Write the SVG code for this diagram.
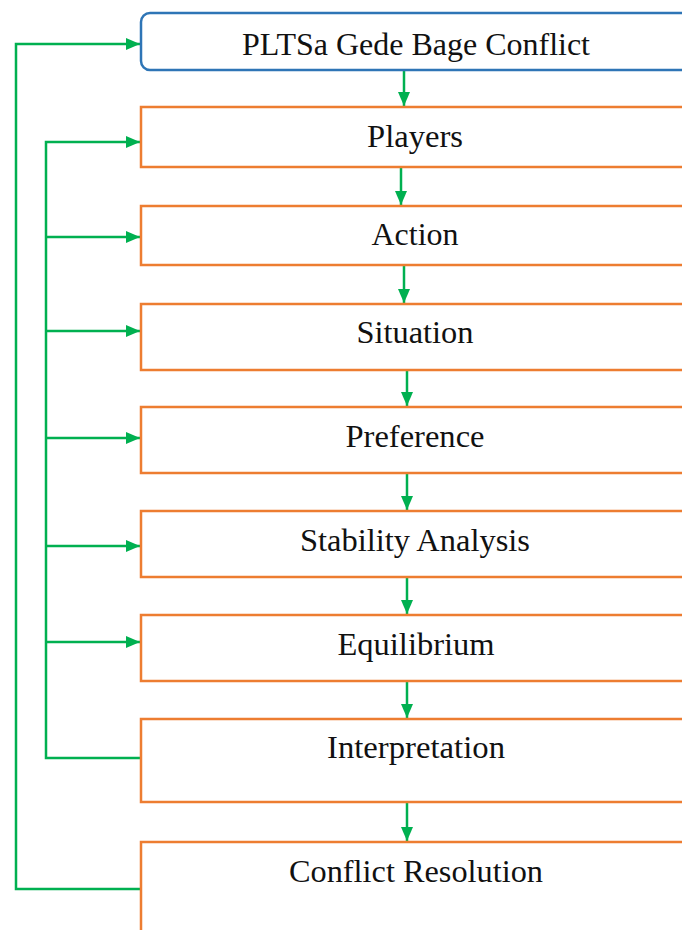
<svg xmlns="http://www.w3.org/2000/svg" width="682" height="930" viewBox="0 0 682 930">
<style>
.box{fill:#fff;stroke:#ED7D31;stroke-width:2.5}
.top{fill:#fff;stroke:#2E75B6;stroke-width:2.5}
.lbl{font-family:"Liberation Serif","Times New Roman",serif;font-size:31px;fill:#111;text-anchor:middle}
.c{fill:none;stroke:#00B050;stroke-width:2.5}
</style>
<defs>
<marker id="ah" viewBox="0 0 14 12" refX="14" refY="6" markerWidth="14" markerHeight="12" markerUnits="userSpaceOnUse" orient="auto">
<path d="M0,0 L14,6 L0,12 Z" fill="#00B050"/>
</marker>
</defs>
<rect width="682" height="930" fill="#fff"/>
<g id="connectors">
<line class="c" x1="404" y1="70" x2="404" y2="106" marker-end="url(#ah)"/>
<line class="c" x1="401" y1="167" x2="401" y2="205" marker-end="url(#ah)"/>
<line class="c" x1="404" y1="265" x2="404" y2="303" marker-end="url(#ah)"/>
<line class="c" x1="407" y1="370" x2="407" y2="406" marker-end="url(#ah)"/>
<line class="c" x1="407" y1="473" x2="407" y2="510" marker-end="url(#ah)"/>
<line class="c" x1="407" y1="577" x2="407" y2="614" marker-end="url(#ah)"/>
<line class="c" x1="407" y1="681" x2="407" y2="718" marker-end="url(#ah)"/>
<line class="c" x1="407" y1="802" x2="407" y2="841" marker-end="url(#ah)"/>
<polyline class="c" points="141,889 16,889 16,44 140,44" marker-end="url(#ah)"/>
<polyline class="c" points="141,758 46,758 46,142 140,142" marker-end="url(#ah)"/>
<line class="c" x1="46" y1="237" x2="140" y2="237" marker-end="url(#ah)"/>
<line class="c" x1="46" y1="331" x2="140" y2="331" marker-end="url(#ah)"/>
<line class="c" x1="46" y1="438" x2="140" y2="438" marker-end="url(#ah)"/>
<line class="c" x1="46" y1="546" x2="140" y2="546" marker-end="url(#ah)"/>
<line class="c" x1="46" y1="642" x2="140" y2="642" marker-end="url(#ah)"/>
</g>
<g id="n-conflict">
<rect class="top" x="141" y="13" width="600" height="57" rx="9"/>
<text class="lbl" x="416" y="55" textLength="348" lengthAdjust="spacingAndGlyphs">PLTSa Gede Bage Conflict</text>
</g>
<g id="n-players">
<rect class="box" x="141" y="107" width="600" height="60"/>
<text class="lbl" x="415" y="147" textLength="96" lengthAdjust="spacingAndGlyphs">Players</text>
</g>
<g id="n-action">
<rect class="box" x="141" y="206" width="600" height="59"/>
<text class="lbl" x="415" y="245" textLength="87" lengthAdjust="spacingAndGlyphs">Action</text>
</g>
<g id="n-situation">
<rect class="box" x="141" y="304" width="600" height="66"/>
<text class="lbl" x="415" y="343" textLength="117" lengthAdjust="spacingAndGlyphs">Situation</text>
</g>
<g id="n-preference">
<rect class="box" x="141" y="407" width="600" height="66"/>
<text class="lbl" x="415" y="447" textLength="139" lengthAdjust="spacingAndGlyphs">Preference</text>
</g>
<g id="n-stability">
<rect class="box" x="141" y="511" width="600" height="66"/>
<text class="lbl" x="415" y="551" textLength="230" lengthAdjust="spacingAndGlyphs">Stability Analysis</text>
</g>
<g id="n-equilibrium">
<rect class="box" x="141" y="615" width="600" height="66"/>
<text class="lbl" x="416" y="655" textLength="157" lengthAdjust="spacingAndGlyphs">Equilibrium</text>
</g>
<g id="n-interpretation">
<rect class="box" x="141" y="719" width="600" height="83"/>
<text class="lbl" x="416" y="758" textLength="178" lengthAdjust="spacingAndGlyphs">Interpretation</text>
</g>
<g id="n-resolution">
<rect class="box" x="141" y="842" width="600" height="200"/>
<text class="lbl" x="416" y="882" textLength="254" lengthAdjust="spacingAndGlyphs">Conflict Resolution</text>
</g>
</svg>
